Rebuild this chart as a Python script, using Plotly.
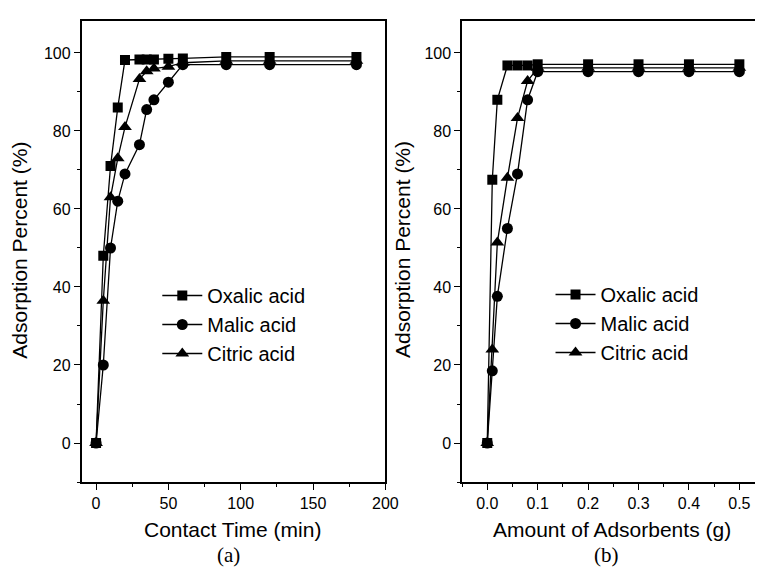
import plotly.graph_objects as go

# ---- data: left panel (contact time) ----
time_min = [0, 5, 10, 15, 20, 30, 35, 40, 50, 60, 90, 120, 180]
oxalic_t = [0, 48, 71, 86, 98.2, 98.3, 98.3, 98.3, 98.5, 98.6, 99, 99, 99]
malic_t = [0, 20, 50, 62, 69, 76.5, 85.5, 88, 92.5, 97, 97, 97, 97]
citric_t = [0, 36.5, 63, 73, 81, 93.3, 95.3, 96, 96.5, 97.5, 98, 98, 98]

# ---- data: right panel (amount of adsorbents) ----
amount_g = [0, 0.01, 0.02, 0.04, 0.06, 0.08, 0.1, 0.2, 0.3, 0.4, 0.5]
oxalic_a = [0, 67.5, 88, 96.8, 96.8, 96.8, 97.1, 97.1, 97.1, 97.1, 97.1]
malic_a = [0, 18.5, 37.6, 55, 69, 88, 95.2, 95.2, 95.2, 95.2, 95.2]
citric_a = [0, 24, 51.4, 68, 83.3, 92.8, 96.2, 96.2, 96.2, 96.2, 96.2]

names = ["Oxalic acid", "Malic acid", "Citric acid"]
symbols = ["square", "circle", "triangle-up"]
sizes = [10, 11, 12]

fig = go.Figure()
for name, ys, sym, sz in zip(names, [oxalic_t, malic_t, citric_t], symbols, sizes):
    fig.add_trace(go.Scatter(x=time_min, y=ys, mode="lines+markers", name=name,
                             line=dict(color="black", width=1.3),
                             marker=dict(symbol=sym, size=sz, color="black"),
                             xaxis="x", yaxis="y", legend="legend"))
for name, ys, sym, sz in zip(names, [oxalic_a, malic_a, citric_a], symbols, sizes):
    fig.add_trace(go.Scatter(x=amount_g, y=ys, mode="lines+markers", name=name,
                             line=dict(color="black", width=1.3),
                             marker=dict(symbol=sym, size=sz, color="black"),
                             xaxis="x2", yaxis="y2", legend="legend2"))

W, H = 768, 568
font = "Liberation Sans, Arial, sans-serif"
tickfont = dict(family=font, size=16, color="black")

common_y = dict(range=[-10, 108.2], tickvals=[0, 20, 40, 60, 80, 100],
                ticks="outside", ticklen=6, tickwidth=1.2, tickcolor="black",
                minor=dict(ticks="outside", ticklen=3, dtick=10, tick0=0, tickcolor="black"),
                showline=True, linecolor="black", linewidth=1.5,
                showgrid=False, zeroline=False, tickfont=tickfont,
                domain=[(H - 482) / H, (H - 21) / H])

legend_font = dict(family=font, size=20, color="black")
fig.update_layout(
    width=W, height=H, margin=dict(l=0, r=0, t=0, b=0),
    paper_bgcolor="white", plot_bgcolor="white",
    xaxis=dict(range=[-10, 200], domain=[83 / W, 392 / W], anchor="y",
               tickvals=[0, 50, 100, 150, 200],
               ticks="outside", ticklen=6, tickwidth=1.2, tickcolor="black",
               minor=dict(ticks="outside", ticklen=3, dtick=25, tick0=0, tickcolor="black"),
               showline=True, linecolor="black", linewidth=1.5, mirror=True,
               showgrid=False, zeroline=False, tickfont=tickfont),
    yaxis=dict(anchor="x", mirror=True, **common_y),
    xaxis2=dict(range=[-0.05, 0.531], domain=[470 / W, 1.0], anchor="y2",
                tickvals=[0, 0.1, 0.2, 0.3, 0.4, 0.5],
                ticktext=["0.0", "0.1", "0.2", "0.3", "0.4", "0.5"],
                ticks="outside", ticklen=6, tickwidth=1.2, tickcolor="black",
                minor=dict(ticks="outside", ticklen=3, dtick=0.05, tick0=0, tickcolor="black"),
                showline=True, linecolor="black", linewidth=1.5, mirror=True,
                showgrid=False, zeroline=False, tickfont=tickfont),
    yaxis2=dict(anchor="x2", mirror=False, **common_y),
    legend=dict(x=160 / W, y=(H - 276) / H, xanchor="left", yanchor="top",
                bgcolor="rgba(0,0,0,0)", font=legend_font, tracegroupgap=0, itemwidth=40),
    legend2=dict(x=560 / W, y=(H - 275) / H, xanchor="left", yanchor="top",
                 bgcolor="rgba(0,0,0,0)", font=legend_font, tracegroupgap=0, itemwidth=40),
    showlegend=True,
)

title_font = dict(family=font, size=21, color="black")
serif_font = dict(family="Liberation Serif, Times New Roman, serif", size=21, color="black")
fig.add_annotation(text="Contact Time (min)", x=237 / W, y=(H - 529) / H, xref="paper", yref="paper",
                   showarrow=False, font=title_font, xanchor="center", yanchor="middle")
fig.add_annotation(text="Amount of Adsorbents (g)", x=623 / W, y=(H - 529) / H, xref="paper", yref="paper",
                   showarrow=False, font=title_font, xanchor="center", yanchor="middle")
fig.add_annotation(text="(a)", x=232 / W, y=(H - 555) / H, xref="paper", yref="paper",
                   showarrow=False, font=serif_font, xanchor="center", yanchor="middle")
fig.add_annotation(text="(b)", x=617 / W, y=(H - 555) / H, xref="paper", yref="paper",
                   showarrow=False, font=serif_font, xanchor="center", yanchor="middle")
fig.add_annotation(text="Adsorption Percent (%)", x=20 / W, y=(H - 250) / H, xref="paper", yref="paper",
                   showarrow=False, font=title_font, textangle=-90, xanchor="center", yanchor="middle")
fig.add_annotation(text="Adsorption Percent (%)", x=410 / W, y=(H - 250) / H, xref="paper", yref="paper",
                   showarrow=False, font=title_font, textangle=-90, xanchor="center", yanchor="middle")

fig.write_html("out.html")
